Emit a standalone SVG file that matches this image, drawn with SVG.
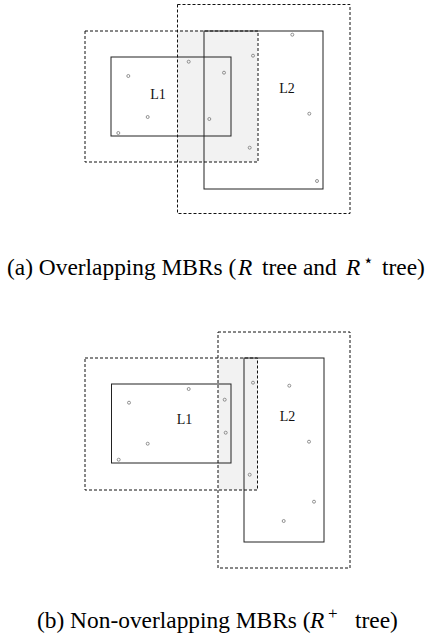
<svg xmlns="http://www.w3.org/2000/svg" width="429" height="638" viewBox="0 0 429 638">
<style>
.bg{fill:#ffffff}
.shade{fill:#f2f2f2;stroke:none}
.mbr{fill:none;stroke:#222;stroke-width:1}
.outer{fill:none;stroke:#111;stroke-width:1;stroke-dasharray:3,2}
.pt{fill:none;stroke:#777;stroke-width:0.8}
.lbl{font-family:"Liberation Serif",serif;font-size:14px;fill:#111;text-anchor:middle}
.cap{font-family:"Liberation Serif",serif;font-size:23.4px;fill:#000}
.it{font-style:italic}
.sup{font-family:"DejaVu Sans",sans-serif;font-size:17px}
</style>
<rect class="bg" x="0" y="0" width="429" height="638"/>
<g id="diagram-a">
<rect class="shade" x="177.5" y="30.5" width="80" height="131.5"/>
<g id="a-L1"><rect class="mbr" x="111" y="57" width="120" height="79"/><text class="lbl" x="158" y="99">L1</text></g>
<g id="a-L2"><rect class="mbr" x="204" y="31" width="119" height="158"/><text class="lbl" x="287" y="93">L2</text></g>
<g id="a-L1-outer"><rect class="outer" x="85" y="31" width="173" height="131"/></g>
<g id="a-L2-outer"><rect class="outer" x="177.5" y="4.5" width="172.5" height="209"/></g>
<g id="a-points">
<circle class="pt" cx="128.3" cy="76" r="1.5"/>
<circle class="pt" cx="188.7" cy="61.7" r="1.5"/>
<circle class="pt" cx="224" cy="72.7" r="1.5"/>
<circle class="pt" cx="253" cy="55.7" r="1.5"/>
<circle class="pt" cx="292.3" cy="34.7" r="1.5"/>
<circle class="pt" cx="147.7" cy="117" r="1.5"/>
<circle class="pt" cx="209.3" cy="119" r="1.5"/>
<circle class="pt" cx="118.3" cy="133" r="1.5"/>
<circle class="pt" cx="249.7" cy="147.7" r="1.5"/>
<circle class="pt" cx="309.3" cy="113.7" r="1.5"/>
<circle class="pt" cx="317" cy="181" r="1.5"/>
</g>
<text id="cap-a" class="cap" x="7" y="275">(a) Overlapping MBRs (<tspan class="it" x="238">R</tspan><tspan x="262">tree and</tspan><tspan class="it" x="346">R</tspan><tspan class="sup" x="363" dy="-9">⋆</tspan><tspan x="382" dy="9">tree)</tspan></text>
</g>
<g id="diagram-b">
<rect class="shade" x="218" y="358" width="39.5" height="132"/>
<g id="b-L1"><rect class="mbr" x="111.5" y="384" width="119.5" height="79"/><text class="lbl" x="184.5" y="424">L1</text></g>
<g id="b-L2"><rect class="mbr" x="244" y="358" width="80" height="184"/><text class="lbl" x="287.5" y="420.5">L2</text></g>
<g id="b-L1-outer"><rect class="outer" x="85" y="358" width="172.5" height="132"/></g>
<g id="b-L2-outer"><rect class="outer" x="218" y="332" width="132" height="236"/></g>
<g id="b-points">
<circle class="pt" cx="129" cy="402.7" r="1.5"/>
<circle class="pt" cx="188.7" cy="389" r="1.5"/>
<circle class="pt" cx="224.7" cy="399.7" r="1.5"/>
<circle class="pt" cx="225.7" cy="432.7" r="1.5"/>
<circle class="pt" cx="253" cy="382.7" r="1.5"/>
<circle class="pt" cx="289.3" cy="385.7" r="1.5"/>
<circle class="pt" cx="147.7" cy="443.7" r="1.5"/>
<circle class="pt" cx="118.7" cy="459.7" r="1.5"/>
<circle class="pt" cx="249.7" cy="474.7" r="1.5"/>
<circle class="pt" cx="309" cy="441.7" r="1.5"/>
<circle class="pt" cx="314" cy="501.7" r="1.5"/>
<circle class="pt" cx="283.7" cy="521" r="1.5"/>
</g>
<text id="cap-b" class="cap" x="37" y="628">(b) Non-overlapping MBRs (<tspan class="it" x="310">R</tspan><tspan font-size="17" x="328" dy="-9">+</tspan><tspan x="355" dy="9">tree)</tspan></text>
</g>
</svg>
